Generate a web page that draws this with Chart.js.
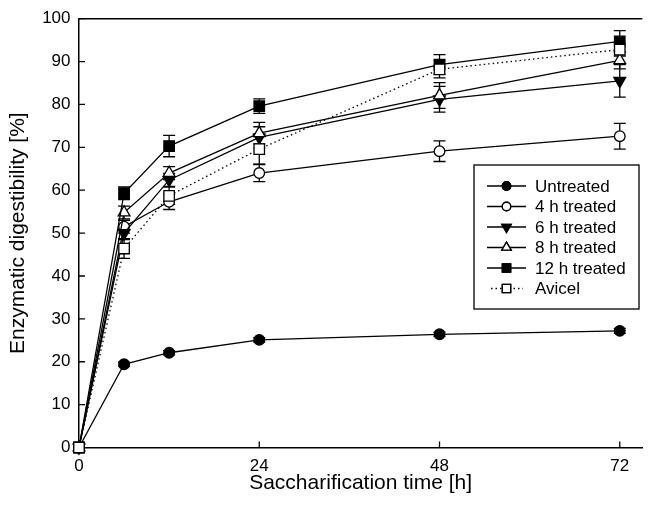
<!DOCTYPE html>
<html><head><meta charset="utf-8">
<script src="https://cdn.jsdelivr.net/npm/chart.js@4/dist/chart.umd.min.js"></script>
<style>
html,body{margin:0;padding:0;overflow:hidden;background:#fff;width:649px;height:514px}
#wrap{position:absolute;left:0;top:0;width:651px;height:514px}
</style>
</head><body><div id="wrap"><canvas id="c" width="651" height="514"></canvas></div>
<script>
// ---- data ----
const times = [0, 6, 12, 24, 48, 72];
const seriesNames = ['Untreated', '4 h treated', '6 h treated', '8 h treated', '12 h treated', 'Avicel'];
const untreated   = [0, 19.4, 22.1, 25.1, 26.4, 27.2];
const treated4h   = [0, 51.5, 57.3, 64.0, 69.1, 72.6];
const treated6h   = [0, 50.0, 62.4, 72.3, 81.2, 85.5];
const treated8h   = [0, 54.8, 64.0, 73.3, 82.1, 90.3];
const treated12h  = [0, 59.3, 70.3, 79.6, 89.3, 94.7];
const avicel      = [0, 46.4, 58.7, 69.6, 88.2, 92.8];
const errUntreated  = [0, 0.5, 0.5, 0.5, 0.5, 0.6];
const err4h         = [0, 1.5, 1.8, 2.0, 2.4, 3.0];
const err6h         = [0, 1.5, 1.5, 2.5, 3.0, 3.8];
const err8h         = [0, 1.5, 1.5, 2.5, 3.0, 2.0];
const err12h        = [0, 1.5, 2.5, 1.7, 2.3, 2.5];
const errAvicel     = [0, 2.3, 2.0, 3.5, 2.0, 1.5];
const xTickValues = [0, 24, 48, 72];
const yTickValues = [0, 10, 20, 30, 40, 50, 60, 70, 80, 90, 100];
const xTitle = 'Saccharification time [h]';
const yTitle = 'Enzymatic digestibility [%]';

const values = [untreated, treated4h, treated6h, treated8h, treated12h, avicel];
const errors = [errUntreated, err4h, err6h, err8h, err12h, errAvicel];
const styles = [
  {ps: 'circle', r: 5.3, fill: '#000', rot: 0, dash: []},
  {ps: 'circle', r: 5.3, fill: '#fff', rot: 0, dash: []},
  {ps: 'triangle', r: 6.8, fill: '#000', rot: 180, dash: []},
  {ps: 'triangle', r: 6.8, fill: '#fff', rot: 0, dash: []},
  {ps: 'rect', r: 7.4, fill: '#000', rot: 0, dash: []},
  {ps: 'rect', r: 7.4, fill: '#fff', rot: 0, dash: [1.5, 3]}
];
const orders = [5, 4, 3, 2, 1, 0];
const FONT = "'Liberation Sans', Arial, sans-serif";

const datasets = values.map((vals, i) => ({
  label: seriesNames[i],
  data: times.map((t, j) => ({x: t, y: vals[j]})),
  borderColor: '#000',
  borderWidth: 1.3,
  borderDash: styles[i].dash,
  pointStyle: styles[i].ps,
  pointRadius: styles[i].r,
  pointRotation: styles[i].rot,
  pointBackgroundColor: styles[i].fill,
  pointBorderColor: '#000',
  pointBorderWidth: 1.3,
  fill: false,
  tension: 0,
  clip: false,
  order: orders[i]
}));

function drawMarker(ctx, st, x, y, scale) {
  const r = st.r * scale;
  ctx.save();
  ctx.fillStyle = st.fill; ctx.strokeStyle = '#000'; ctx.lineWidth = 1.3;
  ctx.setLineDash([]);
  if (Chart.helpers && Chart.helpers.drawPoint) {
    Chart.helpers.drawPoint(ctx, {pointStyle: st.ps, radius: r, rotation: st.rot, borderWidth: 1.3}, x, y);
    ctx.fill(); ctx.stroke();
  } else {
    ctx.beginPath();
    if (st.ps === 'circle') ctx.arc(x, y, r, 0, Math.PI * 2);
    else if (st.ps === 'rect') { const s = r * Math.SQRT1_2; ctx.rect(x - s, y - s, 2 * s, 2 * s); }
    else { const d = st.rot ? -1 : 1; const a = r * Math.sin(Math.PI / 3); ctx.moveTo(x, y - d * r); ctx.lineTo(x + a, y + d * r / 2); ctx.lineTo(x - a, y + d * r / 2); ctx.closePath(); }
    ctx.fill(); ctx.stroke();
  }
  ctx.restore();
}

const decorPlugin = {
  id: 'decor',
  beforeDatasetsDraw(chart) {
    const {ctx, chartArea, scales: {x, y}} = chart;
    ctx.save();
    ctx.strokeStyle = '#000'; ctx.lineWidth = 1.3; ctx.setLineDash([]);
    values.forEach((vals, i) => {
      vals.forEach((v, j) => {
        const e = errors[i][j];
        if (!e) return;
        const px = x.getPixelForValue(times[j]);
        const y1 = y.getPixelForValue(v + e), y2 = y.getPixelForValue(v - e);
        ctx.beginPath();
        ctx.moveTo(px, y1); ctx.lineTo(px, y2);
        ctx.moveTo(px - 6, y1); ctx.lineTo(px + 6, y1);
        ctx.moveTo(px - 6, y2); ctx.lineTo(px + 6, y2);
        ctx.stroke();
      });
    });
    ctx.beginPath();
    xTickValues.forEach(v => { const px = x.getPixelForValue(v); ctx.moveTo(px, chartArea.bottom); ctx.lineTo(px, chartArea.bottom - 6); });
    yTickValues.forEach(v => { const py = y.getPixelForValue(v); ctx.moveTo(chartArea.left, py); ctx.lineTo(chartArea.left + 6, py); });
    ctx.stroke();
    ctx.lineWidth = 1.5;
    ctx.beginPath();
    ctx.moveTo(chartArea.left, chartArea.top); ctx.lineTo(chartArea.right, chartArea.top);
    ctx.stroke();
    ctx.restore();
  },
  afterDraw(chart) {
    const ctx = chart.ctx;
    const bx = 474, by = 165, bw = 165, bh = 144;
    ctx.save();
    ctx.fillStyle = '#fff';
    ctx.fillRect(bx, by, bw, bh);
    ctx.strokeStyle = '#000'; ctx.lineWidth = 1.3;
    ctx.strokeRect(bx, by, bw, bh);
    seriesNames.forEach((name, i) => {
      const yy = 186 + i * 20.5;
      const dotted = styles[i].dash.length > 0;
      ctx.save();
      ctx.strokeStyle = '#000'; ctx.lineWidth = 1.3;
      ctx.setLineDash(styles[i].dash);
      ctx.beginPath();
      ctx.moveTo(dotted ? 491 : 487, yy); ctx.lineTo(dotted ? 523 : 526, yy);
      ctx.stroke();
      ctx.restore();
      drawMarker(ctx, styles[i], 506.5, yy, 0.8);
      ctx.fillStyle = '#000';
      ctx.font = '17px ' + FONT;
      ctx.textBaseline = 'middle';
      ctx.textAlign = 'left';
      ctx.fillText(name, 535, yy + 1);
    });
    ctx.restore();
  }
};

new Chart(document.getElementById('c'), {
  type: 'line',
  data: {datasets},
  plugins: [decorPlugin],
  options: {
    responsive: false,
    devicePixelRatio: 1,
    animation: false,
    layout: {padding: {top: 13, left: 0, right: 0, bottom: 0}},
    plugins: {legend: {display: false}, tooltip: {enabled: false}},
    elements: {line: {borderCapStyle: 'butt'}},
    scales: {
      x: {
        type: 'linear', min: 0, max: 75,
        afterBuildTicks: s => { s.ticks = xTickValues.map(v => ({value: v})); },
        afterFit: s => { s.height = 66.5; },
        grid: {display: false, drawTicks: false},
        border: {display: true, color: '#000', width: 1.5},
        ticks: {color: '#000', font: {family: FONT, size: 17}, padding: 9, maxRotation: 0, autoSkip: false},
        title: {display: true, text: xTitle, color: '#000', font: {family: FONT, size: 21}, padding: {top: 0, bottom: 18}}
      },
      y: {
        min: 0, max: 100,
        afterBuildTicks: s => { s.ticks = yTickValues.map(v => ({value: v})); },
        afterFit: s => { s.width = 79; },
        grid: {display: false, drawTicks: false},
        border: {display: true, color: '#000', width: 1.5},
        ticks: {color: '#000', font: {family: FONT, size: 17}, padding: 8.5, autoSkip: false},
        title: {display: true, text: yTitle, color: '#000', font: {family: FONT, size: 21}, padding: {top: 6, bottom: 0}}
      }
    }
  }
});
</script>
</body></html>
